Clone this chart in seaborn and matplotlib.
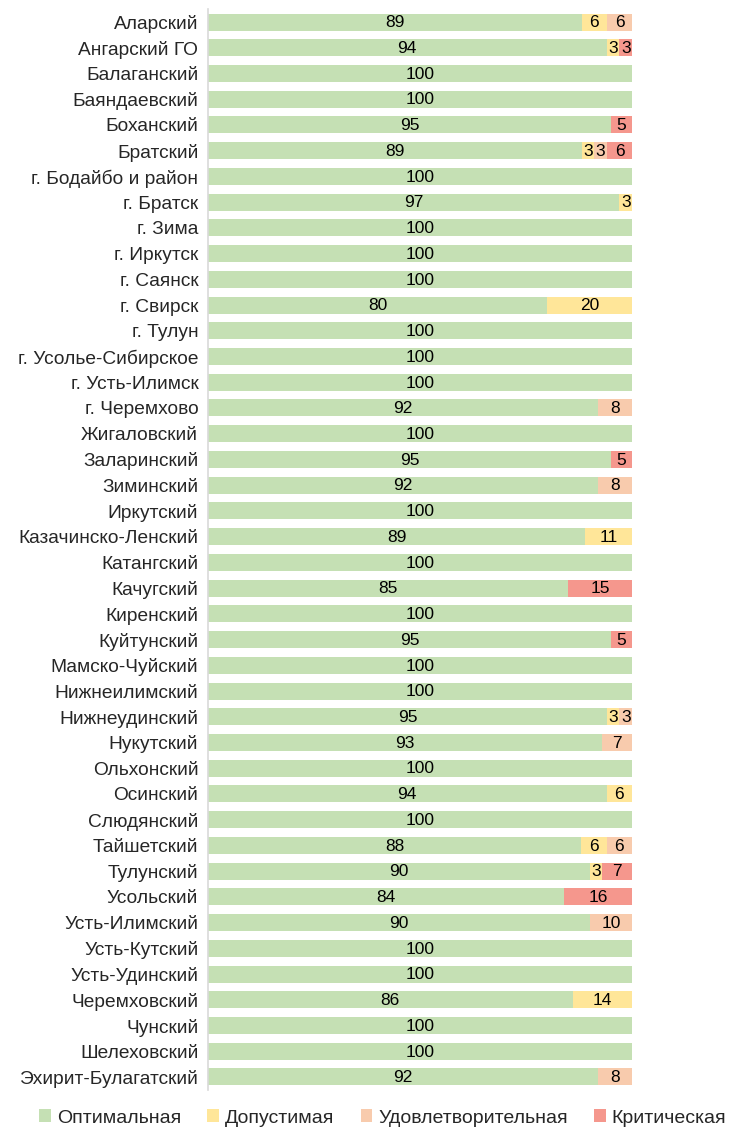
import matplotlib
matplotlib.use("Agg")
import matplotlib.pyplot as plt
import seaborn as sns
import pandas as pd
import numpy as np
from matplotlib.patches import Patch

regions = ["Аларский", "Ангарский ГО", "Балаганский", "Баяндаевский", "Боханский",
           "Братский", "г. Бодайбо и район", "г. Братск", "г. Зима", "г. Иркутск",
           "г. Саянск", "г. Свирск", "г. Тулун", "г. Усолье-Сибирское", "г. Усть-Илимск",
           "г. Черемхово", "Жигаловский", "Заларинский", "Зиминский", "Иркутский",
           "Казачинско-Ленский", "Катангский", "Качугский", "Киренский", "Куйтунский",
           "Мамско-Чуйский", "Нижнеилимский", "Нижнеудинский", "Нукутский", "Ольхонский",
           "Осинский", "Слюдянский", "Тайшетский", "Тулунский", "Усольский",
           "Усть-Илимский", "Усть-Кутский", "Усть-Удинский", "Черемховский", "Чунский",
           "Шелеховский", "Эхирит-Булагатский"]

optimal =      [89, 94, 100, 100, 95, 89, 100, 97, 100, 100, 100, 80, 100, 100, 100, 92, 100, 95, 92, 100,
                89, 100, 85, 100, 95, 100, 100, 95, 93, 100, 94, 100, 88, 90, 84, 90, 100, 100, 86, 100, 100, 92]
acceptable =   [6, 3, 0, 0, 0, 3, 0, 3, 0, 0, 0, 20, 0, 0, 0, 0, 0, 0, 0, 0,
                11, 0, 0, 0, 0, 0, 0, 3, 0, 0, 6, 0, 6, 3, 0, 0, 0, 0, 14, 0, 0, 0]
satisfactory = [6, 0, 0, 0, 0, 3, 0, 0, 0, 0, 0, 0, 0, 0, 0, 8, 0, 0, 8, 0,
                0, 0, 0, 0, 0, 0, 0, 3, 7, 0, 0, 0, 6, 0, 0, 10, 0, 0, 0, 0, 0, 8]
critical =     [0, 3, 0, 0, 5, 6, 0, 0, 0, 0, 0, 0, 0, 0, 0, 0, 0, 5, 0, 0,
                0, 0, 15, 0, 5, 0, 0, 0, 0, 0, 0, 0, 0, 7, 16, 0, 0, 0, 0, 0, 0, 0]

series_names = ["Оптимальная", "Допустимая", "Удовлетворительная", "Критическая"]
colors = ["#C5E0B4", "#FFE699", "#F8CBAD", "#F5978D"]

df = pd.DataFrame({"region": regions, series_names[0]: optimal, series_names[1]: acceptable,
                   series_names[2]: satisfactory, series_names[3]: critical})
vals = df[series_names].to_numpy(dtype=float)
totals = vals.sum(axis=1, keepdims=True)
pct = vals / totals * 100
cum = np.cumsum(pct, axis=1)

sns.set_theme(style="white")
plt.rcParams["font.family"] = ["Liberation Sans", "DejaVu Sans"]

fig = plt.figure(figsize=(7.29, 11.31), dpi=100)
ax = fig.add_axes([0.2853, 0.0364, 0.867 - 0.2853, 0.9919 - 0.0364])

for i in range(len(series_names) - 1, -1, -1):
    d = pd.DataFrame({"region": regions, "x": cum[:, i]})
    sns.barplot(data=d, x="x", y="region", order=regions, color=colors[i],
                width=0.66, saturation=1, linewidth=0, ax=ax)

for r in range(len(regions)):
    for i in range(len(series_names)):
        v = vals[r, i]
        if v > 0:
            start = cum[r, i] - pct[r, i]
            ax.text(start + pct[r, i] / 2, r + 0.03, f"{int(v)}", ha="center", va="center",
                    fontsize=12.5, color="black")

ax.set_xlim(0, 100)
ax.set_ylim(len(regions) - 0.5, -0.5)
ax.set_xlabel("")
ax.set_ylabel("")
ax.set_xticks([])
ax.tick_params(axis="y", length=0, pad=7, labelsize=13.8)
for s in ["top", "right", "bottom"]:
    ax.spines[s].set_visible(False)
ax.spines["left"].set_color("#D9D9D9")
ax.spines["left"].set_linewidth(1.2)

handles = [Patch(facecolor=c, edgecolor="none", label=n) for c, n in zip(colors, series_names)]
fig.legend(handles=handles, loc="center", bbox_to_anchor=(0.525, 0.0115), ncol=4, frameon=False,
           fontsize=14, handlelength=0.6, handleheight=0.6, handletextpad=0.3, columnspacing=1.35,
           borderaxespad=0)

fig.savefig("out.png", dpi=100)
